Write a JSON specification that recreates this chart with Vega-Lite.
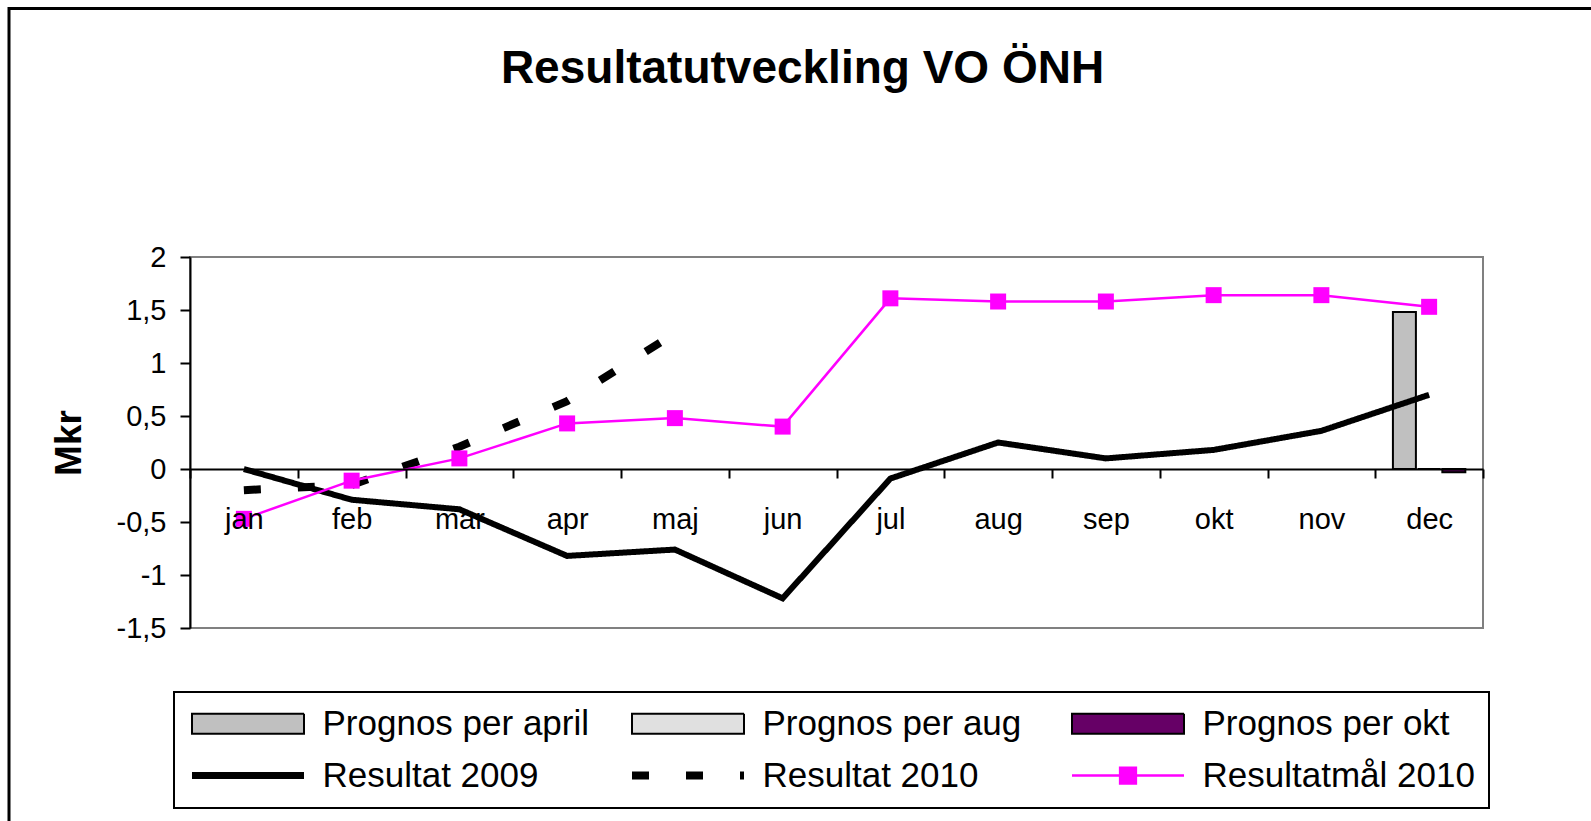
{
  "$schema": "https://vega.github.io/schema/vega-lite/v6.json",
  "autosize": "none",
  "width": 1293,
  "height": 371,
  "padding": {"left": 190, "top": 257, "right": 108, "bottom": 193},
  "background": "white",
  "config": {
    "font": "Liberation Sans",
    "view": {"stroke": "#808080", "strokeWidth": 2}
  },
  "title": {
    "text": "Resultatutveckling VO ÖNH",
    "font": "Liberation Sans",
    "fontSize": 46,
    "fontWeight": "bold",
    "color": "black",
    "anchor": "middle",
    "frame": "group",
    "baseline": "alphabetic",
    "offset": -122,
    "dx": -34
  },
  "data": {
    "values": [
      {"month": "dec", "series": "Prognos per april", "value": 1.48},
      {"month": "dec", "series": "Prognos per aug", "value": 0},
      {"month": "dec", "series": "Prognos per okt", "value": -0.03},
      {"month": "jan", "series": "Resultat 2009", "value": 0.0},
      {"month": "feb", "series": "Resultat 2009", "value": -0.29},
      {"month": "mar", "series": "Resultat 2009", "value": -0.38},
      {"month": "apr", "series": "Resultat 2009", "value": -0.82},
      {"month": "maj", "series": "Resultat 2009", "value": -0.76},
      {"month": "jun", "series": "Resultat 2009", "value": -1.22},
      {"month": "jul", "series": "Resultat 2009", "value": -0.09},
      {"month": "aug", "series": "Resultat 2009", "value": 0.25},
      {"month": "sep", "series": "Resultat 2009", "value": 0.1},
      {"month": "okt", "series": "Resultat 2009", "value": 0.18},
      {"month": "nov", "series": "Resultat 2009", "value": 0.36},
      {"month": "dec", "series": "Resultat 2009", "value": 0.7},
      {"month": "jan", "series": "Resultat 2010", "value": -0.2},
      {"month": "feb", "series": "Resultat 2010", "value": -0.15},
      {"month": "mar", "series": "Resultat 2010", "value": 0.21},
      {"month": "apr", "series": "Resultat 2010", "value": 0.64},
      {"month": "maj", "series": "Resultat 2010", "value": 1.28},
      {"month": "jan", "series": "Resultatmål 2010", "value": -0.47},
      {"month": "feb", "series": "Resultatmål 2010", "value": -0.11},
      {"month": "mar", "series": "Resultatmål 2010", "value": 0.1},
      {"month": "apr", "series": "Resultatmål 2010", "value": 0.43},
      {"month": "maj", "series": "Resultatmål 2010", "value": 0.48},
      {"month": "jun", "series": "Resultatmål 2010", "value": 0.4},
      {"month": "jul", "series": "Resultatmål 2010", "value": 1.61},
      {"month": "aug", "series": "Resultatmål 2010", "value": 1.58},
      {"month": "sep", "series": "Resultatmål 2010", "value": 1.58},
      {"month": "okt", "series": "Resultatmål 2010", "value": 1.64},
      {"month": "nov", "series": "Resultatmål 2010", "value": 1.64},
      {"month": "dec", "series": "Resultatmål 2010", "value": 1.53}
    ]
  },
  "encoding": {
    "x": {
      "field": "month",
      "type": "nominal",
      "scale": {"domain": ["jan","feb","mar","apr","maj","jun","jul","aug","sep","okt","nov","dec"], "paddingInner": 0, "paddingOuter": 0},
      "axis": {
        "title": null,
        "orient": "bottom",
        "offset": -159,
        "zindex": 1,
        "domainColor": "black",
        "domainWidth": 2,
        "tickColor": "black",
        "tickWidth": 2,
        "tickSize": 9,
        "tickBand": "extent",
        "labelAngle": 0,
        "labelFont": "Liberation Sans",
        "labelFontSize": 29,
        "labelColor": "black",
        "labelPadding": 27,
        "grid": false
      }
    },
    "y": {
      "field": "value",
      "type": "quantitative",
      "scale": {"domain": [-1.5, 2], "nice": false, "zero": false},
      "axis": {
        "title": "Mkr",
        "titleFont": "Liberation Sans",
        "titleFontSize": 37,
        "titleFontWeight": "bold",
        "titleColor": "black",
        "titlePadding": 28,
        "values": [-1.5, -1, -0.5, 0, 0.5, 1, 1.5, 2],
        "labelExpr": "replace(toString(datum.value), '.', ',')",
        "domainColor": "black",
        "domainWidth": 2,
        "tickColor": "black",
        "tickWidth": 2,
        "tickSize": 10,
        "labelFont": "Liberation Sans",
        "labelFontSize": 29,
        "labelColor": "black",
        "labelPadding": 14,
        "grid": false
      }
    }
  },
  "layer": [
    {
      "transform": [{"filter": "indexof(['Prognos per april','Prognos per aug','Prognos per okt'], datum.series) >= 0"}],
      "mark": {"type": "bar", "stroke": "black", "strokeWidth": 2, "opacity": 1},
      "encoding": {
        "xOffset": {
          "field": "series",
          "type": "nominal",
          "scale": {"domain": ["Prognos per april","Prognos per aug","Prognos per okt"], "paddingInner": 0.07, "paddingOuter": 0.715}
        },
        "color": {
          "field": "series",
          "type": "nominal",
          "scale": {
            "domain": ["Prognos per april","Prognos per aug","Prognos per okt","Resultat 2009","Resultat 2010","Resultatmål 2010"],
            "range": ["#c0c0c0","#e0e0e0","#660066","#000000","#000000","#ff00ff"]
          },
          "legend": {
            "orient": "none",
            "legendX": -16,
            "legendY": 435,
            "direction": "horizontal",
            "columns": 3,
            "title": null,
            "strokeColor": "black",
            "fillColor": "white",
            "padding": 14,
            "rowPadding": 16,
            "columnPadding": 21,
            "gridAlign": "all",
            "labelFont": "Liberation Sans",
            "labelFontSize": 35,
            "labelColor": "black",
            "labelLimit": 0,
            "labelOffset": 57,
            "symbolSize": 1225,
            "symbolOffset": 42.5,
            "symbolStrokeWidth": 2,
            "encoding": {
              "legend": {"strokeWidth": {"value": 2}},
              "symbols": {
                "shape": {"value": {"expr": "(datum.value === 'Resultat 2009' || datum.value === 'Resultat 2010') ? 'M-3.2,0H3.2' : (datum.value === 'Resultatmål 2010' ? 'M-3.2,0H3.2M-0.45,-0.45H0.45V0.45H-0.45Z' : 'M-3.2,-0.571H3.2V0.571H-3.2Z')"}},
                "fill": {"value": {"expr": "datum.value === 'Prognos per april' ? '#c0c0c0' : datum.value === 'Prognos per aug' ? '#e0e0e0' : datum.value === 'Prognos per okt' ? '#660066' : datum.value === 'Resultatmål 2010' ? '#ff00ff' : 'transparent'"}},
                "stroke": {"value": {"expr": "datum.value === 'Resultatmål 2010' ? '#ff00ff' : 'black'"}},
                "strokeWidth": {"value": {"expr": "datum.value === 'Resultat 2009' ? 7 : datum.value === 'Resultat 2010' ? 8 : datum.value === 'Resultatmål 2010' ? 2.5 : 2"}},
                "strokeDash": {"value": {"expr": "datum.value === 'Resultat 2010' ? [17, 37] : [1, 0]"}},
                "opacity": {"value": 1},
                "fillOpacity": {"value": 1},
                "strokeOpacity": {"value": 1}
              }
            }
          }
        }
      }
    },
    {
      "transform": [{"filter": "datum.series === 'Resultat 2009'"}],
      "mark": {"type": "line", "strokeWidth": 6, "color": "black"},
      "encoding": {
        "strokeDash": {
          "field": "series",
          "type": "nominal",
          "scale": {"domain": ["Resultat 2009"], "range": [[1, 0]]},
          "legend": {
            "orient": "none",
            "legendX": -181,
            "legendY": -248.5,
            "title": null,
            "strokeColor": "black",
            "fillColor": "transparent",
            "padding": 400,
            "labelExpr": "''",
            "labelFontSize": 1,
            "labelOffset": 0,
            "symbolSize": 640000,
            "symbolOffset": 0,
            "symbolStrokeWidth": 0,
            "encoding": {
              "legend": {"strokeWidth": {"value": 3}},
              "symbols": {
                "shape": {"value": "M-1,-0.032H1V0.032H-1Z"},
                "fill": {"value": "transparent"},
                "stroke": {"value": "transparent"},
                "strokeWidth": {"value": 0}
              }
            }
          }
        }
      }
    },
    {
      "transform": [{"filter": "datum.series === 'Resultat 2010'"}],
      "mark": {"type": "line", "strokeWidth": 8, "strokeDash": [17, 37], "strokeCap": "butt", "color": "black"},
      "encoding": {}
    },
    {
      "transform": [{"filter": "datum.series === 'Resultatmål 2010'"}],
      "mark": {"type": "line", "strokeWidth": 2.5, "color": "#ff00ff", "point": {"shape": "square", "size": 256, "filled": true, "opacity": 1, "color": "#ff00ff"}},
      "encoding": {}
    }
  ]
}
